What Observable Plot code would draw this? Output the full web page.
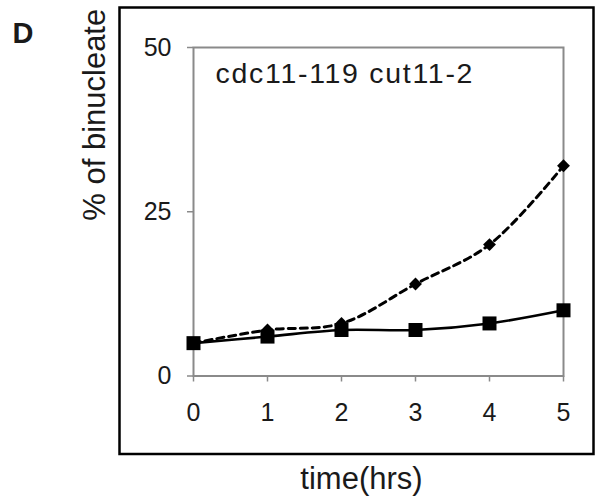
<!DOCTYPE html>
<html><head><meta charset="utf-8">
<script src="https://cdn.jsdelivr.net/npm/d3@7"></script>
<script src="https://cdn.jsdelivr.net/npm/@observablehq/plot@0.6"></script>
<style>body{margin:0;background:#fff}</style>
</head><body><div id="chart"></div>
<script>
const hours = [0, 1, 2, 3, 4, 5];
const squareSeries = [5, 6, 7, 7, 8, 10];     // solid line, square markers
const diamondSeries = [5, 7, 8, 14, 20, 32];  // dashed line, diamond markers
const yTicks = [0, 25, 50];
const xTicks = [0, 1, 2, 3, 4, 5];
const panelLabel = "D";
const annotation = "cdc11-119 cut11-2";
const xLabel = "time(hrs)";
const yLabel = "% of binucleate";

const squares = hours.map((h, i) => ({h, v: squareSeries[i]}));
const diamonds = hours.map((h, i) => ({h, v: diamondSeries[i]}));
const gray = "#8a8a8a";
const ink = "#1a1a1a";

const chart = Plot.plot({
  width: 597, height: 497,
  marginLeft: 193, marginRight: 34, marginTop: 47, marginBottom: 121.5,
  style: {fontFamily: "'Liberation Sans', Arial, sans-serif", background: "white", color: ink, overflow: "visible"},
  x: {domain: [0, 5]},
  y: {domain: [0, 50]},
  marks: [
    Plot.frame({stroke: "black", strokeWidth: 2.5, insetLeft: -74, insetTop: -40, insetRight: -30, insetBottom: -78}),
    Plot.frame({stroke: gray, strokeWidth: 2}),
    Plot.axisY({ticks: yTicks, tickFormat: d3.format("d"), tickSize: 6, tickPadding: 16, stroke: gray, strokeWidth: 1.5, fill: ink, fontSize: 25, label: null}),
    Plot.axisX({ticks: xTicks, tickFormat: d3.format("d"), tickSize: 6, tickPadding: 21, stroke: gray, strokeWidth: 1.5, fill: ink, fontSize: 25, label: null}),
    Plot.line(diamonds, {x: "h", y: "v", curve: "catmull-rom", stroke: "black", strokeWidth: 3, strokeDasharray: "7,5"}),
    Plot.line(squares, {x: "h", y: "v", curve: "catmull-rom", stroke: "black", strokeWidth: 2.6}),
    Plot.dot(diamonds, {x: "h", y: "v", symbol: "diamond2", r: 5.8, fill: "black", stroke: null}),
    Plot.dot(squares, {x: "h", y: "v", symbol: "square", r: 7.9, fill: "black", stroke: null}),
    Plot.text([panelLabel], {text: d => d, frameAnchor: "top-left", dx: -181, dy: -25, lineAnchor: "top", textAnchor: "start", fontSize: 29, fontWeight: "bold", fill: ink}),
    Plot.text([annotation], {text: d => d, frameAnchor: "top-left", dx: 22, dy: 15, lineAnchor: "top", textAnchor: "start", fontSize: 28.5, fill: ink}),
    Plot.text([yLabel], {text: d => d, frameAnchor: "left", rotate: -90, dx: -111, dy: 9, lineAnchor: "top", fontSize: 31, fill: ink}),
    Plot.text([xLabel], {text: d => d, frameAnchor: "bottom", dx: -17, dy: 112.5, lineAnchor: "bottom", fontSize: 31, fill: ink})
  ]
});
d3.select(chart).selectAll("text").filter(function() { return this.textContent === annotation; }).style("letter-spacing", "1.7px");
document.getElementById("chart").appendChild(chart);
</script>
</body></html>
